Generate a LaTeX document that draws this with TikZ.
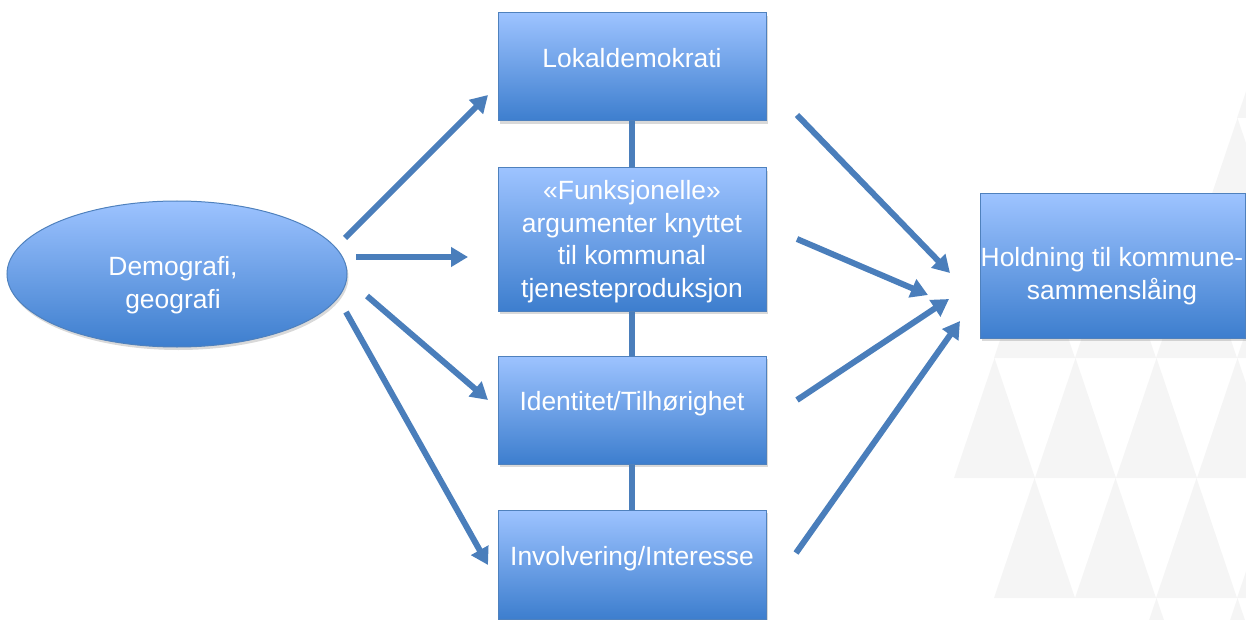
\documentclass[tikz,border=0pt]{standalone}
\usepackage{fontspec}
\setmainfont{Liberation Sans}
\usetikzlibrary{arrows.meta,shadows,shapes.geometric}
\definecolor{arrowblue}{HTML}{4A7EBB}
\definecolor{boxborder}{HTML}{4F81BD}
\definecolor{gtop}{HTML}{9DC3FF}
\definecolor{gmid}{HTML}{86B1F0}
\definecolor{gbot}{HTML}{3D7ECE}
\definecolor{tri}{HTML}{F5F5F5}
\tikzset{
  factor/.style={draw=boxborder, line width=1pt, top color=gtop, middle color=gmid,
    bottom color=gbot, inner sep=0pt,
    drop shadow={opacity=0.3, shadow xshift=1.5pt, shadow yshift=-3pt}},
  lbl/.style={text=white, font=\fontsize{26.4}{32.5}\selectfont, align=center, inner sep=0pt},
  flow/.style={arrowblue, line width=6pt, -{Triangle[length=17pt,width=19pt]}},
  link/.style={arrowblue, line width=6pt},
  bgtri/.style={fill=tri, draw=none},
}
\newcommand{\uptri}[2]{\fill[bgtri] (#1,#2+120) -- (#1+40.5,#2) -- (#1+81,#2+120) -- cycle;}
\begin{document}
\begin{tikzpicture}[x=1pt,y=-1pt]
\useasboundingbox (0,0) rectangle (1246,620);
% background triangle pattern
\begin{scope}
  \clip (0,0) rectangle (1246,620);
  \uptri{1237}{-2}
  \uptri{1197}{118}
  \foreach \x in {994,1075,1156,1237} {\uptri{\x}{238}}
  \foreach \x in {954,1035,1116,1197} {\uptri{\x}{358}}
  \foreach \x in {994,1075,1156,1237} {\uptri{\x}{478}}
  \foreach \x in {1116,1197} {\uptri{\x}{598}}
\end{scope}

% shapes
\node[factor, ellipse, minimum width=340pt, minimum height=146pt] (demo) at (177,274) {};
\node[factor, minimum width=268pt, minimum height=108pt] (lok) at (632,67) {};
\node[factor, minimum width=268pt, minimum height=143pt] (fun) at (632,239.5) {};
\node[factor, minimum width=268pt, minimum height=108pt] (ide) at (632,410) {};
\node[factor, minimum width=268pt, minimum height=109pt] (inv) at (632,564.5) {};
\node[factor, minimum width=265pt, minimum height=144pt] (hold) at (1112.5,266) {};

% vertical links
\draw[link] (lok.south) -- (fun.north);
\draw[link] (fun.south) -- (ide.north);
\draw[link] (ide.south) -- (inv.north);

% labels (anchor=base is the baseline of the last line)
\node[lbl, anchor=base] (demot) at (173,308) {Demografi,\\geografi};
\node[lbl, anchor=base] (lokt) at (632,68) {Lokaldemokrati};
\node[lbl, anchor=base] (funt) at (632,297) {«Funksjonelle»\\argumenter knyttet\\til kommunal\\tjenesteproduksjon};
\node[lbl, anchor=base] (idet) at (632,410) {Identitet/Tilhørighet};
\node[lbl, anchor=base] (invt) at (632,565) {Involvering/Interesse};
\node[lbl, anchor=base] (holdt) at (1112,299) {Holdning til kommune-\\sammenslåing};

% arrow end points
\coordinate (a1s) at (345,238); \coordinate (a1e) at (488,95);
\coordinate (a2s) at (356,257); \coordinate (a2e) at (468,257);
\coordinate (a3s) at (367,296); \coordinate (a3e) at (488,400);
\coordinate (a4s) at (346,312); \coordinate (a4e) at (488,565);
\coordinate (b1s) at (797,115); \coordinate (b1e) at (950,273);
\coordinate (b2s) at (797,239); \coordinate (b2e) at (928,295);
\coordinate (b3s) at (797,400); \coordinate (b3e) at (949,299);
\coordinate (b4s) at (796,553); \coordinate (b4e) at (960,321);

\draw[flow] (a1s) -- (a1e);
\draw[flow] (a2s) -- (a2e);
\draw[flow] (a3s) -- (a3e);
\draw[flow] (a4s) -- (a4e);
\draw[flow] (b1s) -- (b1e);
\draw[flow] (b2s) -- (b2e);
\draw[flow] (b3s) -- (b3e);
\draw[flow] (b4s) -- (b4e);
\end{tikzpicture}
\end{document}
